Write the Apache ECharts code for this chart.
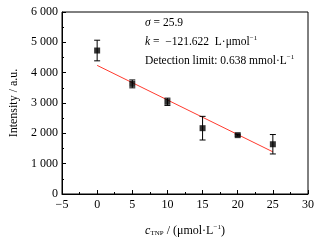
<!DOCTYPE html>
<html>
<head>
<meta charset="utf-8">
<script src="https://cdn.jsdelivr.net/npm/echarts@6/dist/echarts.min.js"></script>
<style>
html, body { margin: 0; padding: 0; background: #fff; }
#chart { width: 323px; height: 242px; }
</style>
</head>
<body>
<div id="chart"></div>
<script>
// concentration (umol/L), mean intensity, error (+/-)
var conc = [0, 5, 10, 15, 20, 25];
var intensity = [4730, 3630, 3040, 2170, 1940, 1640];
var errors = [340, 130, 120, 390, 30, 320];
// fitted line end points
var fitX = [0, 25];
var fitY = [4240, 1390];

var serif = 'Liberation Serif';

var chart = echarts.init(document.getElementById('chart'));

function fmtThousand(v) {
    var s = String(v);
    if (s.length > 3) s = s.slice(0, s.length - 3) + ' ' + s.slice(-3);
    return s;
}
function fmtMinus(v) {
    return v < 0 ? '\u2212' + Math.abs(v) : String(v);
}

var points = conc.map(function (c, i) { return [c, intensity[i]]; });
var bars = conc.map(function (c, i) { return [c, intensity[i] - errors[i], intensity[i] + errors[i]]; });
var fitLine = fitX.map(function (x, i) { return [x, fitY[i]]; });

var option = {
    animation: false,
    backgroundColor: '#fff',
    grid: {
        left: 55,
        right: 15,
        top: 12,
        bottom: 45,
        show: true,
        borderColor: '#000',
        borderWidth: 1
    },
    xAxis: {
        type: 'value',
        min: -5,
        max: 30,
        interval: 5,
        axisLine: { onZero: false, lineStyle: { color: '#000' } },
        axisTick: { inside: true, length: 4, lineStyle: { color: '#000' } },
        minorTick: { show: true, splitNumber: 2, length: 2, lineStyle: { color: '#000' } },
        splitLine: { show: false },
        axisLabel: { color: '#000', fontFamily: serif, fontSize: 12, margin: 5, formatter: fmtMinus },
        name: '{i|c}{sub|TNP}{t| / (\u03bcmol\u00b7L}{sup|\u22121}{t|)}',
        nameLocation: 'middle',
        nameGap: 30,
        nameTextStyle: {
            color: '#000',
            fontFamily: serif,
            fontSize: 12,
            rich: {
                i: { fontFamily: serif, fontSize: 12, fontStyle: 'italic', color: '#000' },
                t: { fontFamily: serif, fontSize: 12, color: '#000' },
                sub: { fontFamily: serif, fontSize: 7, color: '#000', padding: [6, 0, 0, 0] },
                sup: { fontFamily: serif, fontSize: 7, color: '#000', padding: [0, 0, 6, 0] }
            }
        }
    },
    yAxis: {
        type: 'value',
        min: 0,
        max: 6000,
        interval: 1000,
        axisLine: { show: true, onZero: false, lineStyle: { color: '#000' } },
        axisTick: { show: true, inside: true, length: 4, lineStyle: { color: '#000' } },
        minorTick: { show: true, splitNumber: 2, length: 2, lineStyle: { color: '#000' } },
        splitLine: { show: false },
        axisLabel: { color: '#000', fontFamily: serif, fontSize: 12, margin: 4, formatter: fmtThousand },
        name: 'Intensity / a.u.',
        nameLocation: 'middle',
        nameGap: 42,
        nameTextStyle: { color: '#000', fontFamily: serif, fontSize: 12 }
    },
    graphic: [
        {
            type: 'text', left: 145, top: 17,
            style: {
                text: '{i|\u03c3}{t| = 25.9}',
                rich: {
                    i: { fontFamily: serif, fontSize: 11.5, fontStyle: 'italic', fill: '#000' },
                    t: { fontFamily: serif, fontSize: 11.5, fill: '#000' }
                }
            }
        },
        {
            type: 'text', left: 145, top: 35,
            style: {
                text: '{i|k}{t| =  \u2212121.622  L\u00b7\u03bcmol}{sup|\u22121}',
                rich: {
                    i: { fontFamily: serif, fontSize: 11.5, fontStyle: 'italic', fill: '#000' },
                    t: { fontFamily: serif, fontSize: 11.5, fill: '#000' },
                    sup: { fontFamily: serif, fontSize: 7, fill: '#000', padding: [0, 0, 6, 0] }
                }
            }
        },
        {
            type: 'text', left: 145, top: 54,
            style: {
                text: '{t|Detection limit: 0.638 mmol\u00b7L}{sup|\u22121}',
                rich: {
                    t: { fontFamily: serif, fontSize: 11.5, fill: '#000' },
                    sup: { fontFamily: serif, fontSize: 7, fill: '#000', padding: [0, 0, 6, 0] }
                }
            }
        }
    ],
    series: [
        {
            type: 'line',
            data: fitLine,
            symbol: 'none',
            lineStyle: { color: '#ff3a2e', width: 1 },
            z: 2
        },
        {
            type: 'custom',
            data: bars,
            z: 3,
            renderItem: function (params, api) {
                var x = api.value(0);
                var lo = api.coord([x, api.value(1)]);
                var hi = api.coord([x, api.value(2)]);
                var cap = 3;
                var st = { stroke: '#000', lineWidth: 1 };
                return {
                    type: 'group',
                    children: [
                        { type: 'line', shape: { x1: lo[0], y1: lo[1], x2: hi[0], y2: hi[1] }, style: st },
                        { type: 'line', shape: { x1: lo[0] - cap, y1: lo[1], x2: lo[0] + cap, y2: lo[1] }, style: st },
                        { type: 'line', shape: { x1: hi[0] - cap, y1: hi[1], x2: hi[0] + cap, y2: hi[1] }, style: st }
                    ]
                };
            }
        },
        {
            type: 'scatter',
            data: points,
            symbol: 'rect',
            symbolSize: 6,
            itemStyle: { color: '#000' },
            z: 4
        }
    ]
};

chart.setOption(option);
</script>
</body>
</html>
